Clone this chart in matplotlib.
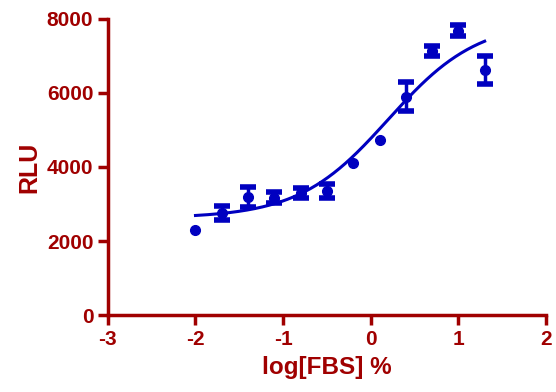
import numpy as np
import matplotlib
matplotlib.use("Agg")
import matplotlib.pyplot as plt

plt.rcParams['font.family'] = ['Liberation Sans', 'DejaVu Sans']
plt.rcParams['font.weight'] = 'bold'
plt.rcParams['axes.unicode_minus'] = False

log_fbs = [-2.0, -1.7, -1.4, -1.1, -0.8, -0.5, -0.2, 0.1, 0.4, 0.7, 1.0, 1.3]
rlu = [2300, 2760, 3190, 3170, 3290, 3360, 4100, 4730, 5900, 7135, 7680, 6620]
rlu_err = [0, 200, 270, 150, 140, 190, 0, 0, 390, 135, 140, 380]

# sigmoidal fit parameters
bottom, top, log_ec50, hill = 2620, 7950, 0.2, 0.85

red = '#A00000'
blue = '#0000C0'

fig = plt.figure(figsize=(5.56, 3.92), dpi=100)
ax = fig.add_axes([0.194, 0.196, 0.788, 0.756])

xc = np.linspace(min(log_fbs), max(log_fbs), 300)
yc = bottom + (top - bottom) / (1 + 10 ** ((log_ec50 - xc) * hill))
ax.plot(xc, yc, color=blue, lw=2.2)

ax.plot(log_fbs, rlu, 'o', color=blue, ms=7)
xe = [x for x, e in zip(log_fbs, rlu_err) if e > 0]
ye = [y for y, e in zip(rlu, rlu_err) if e > 0]
ee = [e for e in rlu_err if e > 0]
ax.errorbar(xe, ye, yerr=ee, fmt='none', ecolor=blue,
            elinewidth=2.5, capsize=6, capthick=4)

ax.set_xlim(-3, 2)
ax.set_ylim(0, 8000)
ax.set_xticks([-3, -2, -1, 0, 1, 2])
ax.set_yticks([0, 2000, 4000, 6000, 8000])
for s in ['top', 'right']:
    ax.spines[s].set_visible(False)
for s in ['left', 'bottom']:
    ax.spines[s].set_color(red)
    ax.spines[s].set_linewidth(2.5)
ax.tick_params(colors=red, width=2.5, length=7, labelsize=15, direction='out')
for lab in ax.get_xticklabels() + ax.get_yticklabels():
    lab.set_fontweight('bold')
ax.set_xlabel('log[FBS] %', color=red, fontsize=17.5, fontweight='bold', labelpad=5)
ax.set_ylabel('RLU', color=red, fontsize=18, fontweight='bold', labelpad=4)

fig.savefig('out.png', dpi=100)
